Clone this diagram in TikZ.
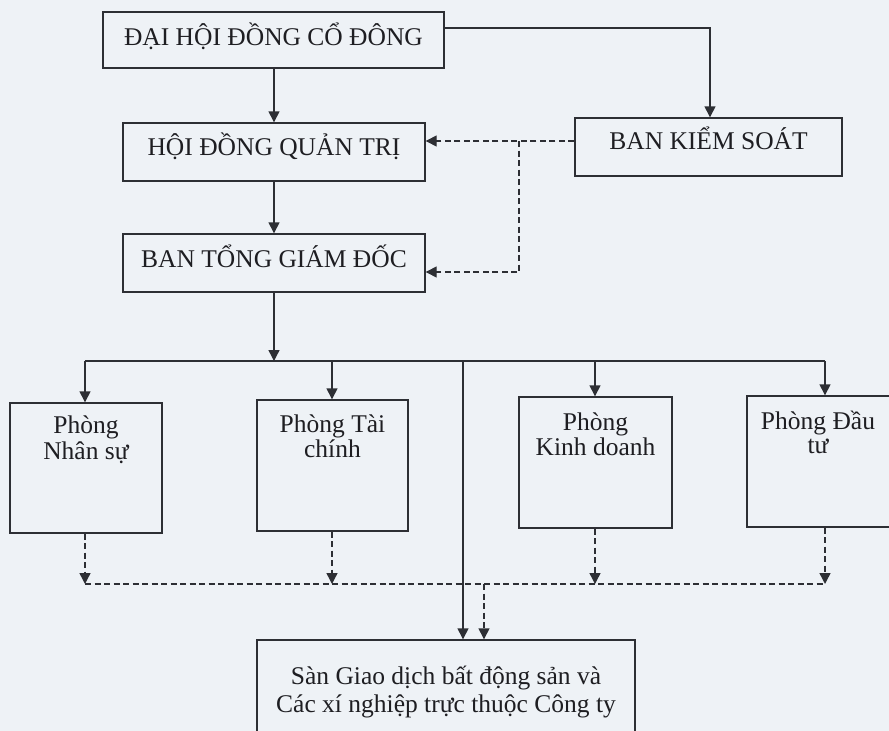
\documentclass[tikz,border=0pt]{standalone}
\usepackage{fontspec}
\setmainfont{Liberation Serif}
\usetikzlibrary{arrows.meta}
\definecolor{bgc}{RGB}{238,242,246}
\definecolor{ink}{RGB}{45,47,52}
\definecolor{txt}{RGB}{30,30,34}
\tikzset{
  box/.style={draw=ink, line width=1.4pt, rectangle, inner sep=0pt},
  lbl/.style={text=txt, font=\fontsize{25.5}{27}\selectfont, inner sep=0pt, anchor=base},
  arr/.style={draw=ink, line width=1.4pt, -{Triangle[width=11pt,length=11pt]}},
  ln/.style={draw=ink, line width=1.4pt},
  darr/.style={draw=ink, line width=1.4pt, dash pattern=on 6pt off 3.5pt, -{Triangle[width=11pt,length=11pt]}},
  dln/.style={draw=ink, line width=1.4pt, dash pattern=on 6pt off 3.5pt}
}
\begin{document}
\begin{tikzpicture}[x=1pt,y=-1pt]
\fill[bgc] (0,0) rectangle (889,731);
\useasboundingbox (0,0) rectangle (889,731);
\begin{scope}
\clip (0,0) rectangle (889,731);
% boxes
\node[box, minimum width=341pt, minimum height=56pt] (dhdcd) at (273.5,40) {};
\node[lbl] (dhdcdT) at (273.5,45) {ĐẠI HỘI ĐỒNG CỔ ĐÔNG};
\node[box, minimum width=302pt, minimum height=58pt] (hdqt) at (274,152) {};
\node[lbl] (hdqtT) at (274,155) {HỘI ĐỒNG QUẢN TRỊ};
\node[box, minimum width=302pt, minimum height=58pt] (btgd) at (274,263) {};
\node[lbl] (btgdT) at (274,267) {BAN TỔNG GIÁM ĐỐC};
\node[box, minimum width=267pt, minimum height=58pt] (bks) at (708.5,147) {};
\node[lbl] (bksT) at (708.5,149) {BAN KIỂM SOÁT};

\node[box, minimum width=152pt, minimum height=130pt] (ns) at (86,468) {};
\node[lbl] (ns1) at (86,433) {Phòng};
\node[lbl] (ns2) at (86,459) {Nhân sự};
\node[box, minimum width=151pt, minimum height=131pt] (tc) at (332.5,465.5) {};
\node[lbl] (tc1) at (332.5,432) {Phòng Tài};
\node[lbl] (tc2) at (332.5,457) {chính};
\node[box, minimum width=153pt, minimum height=131pt] (kd) at (595.5,462.5) {};
\node[lbl] (kd1) at (595.5,430) {Phòng};
\node[lbl] (kd2) at (595.5,455) {Kinh doanh};
\node[box, minimum width=143pt, minimum height=131pt] (dt) at (818.5,461.5) {};
\node[lbl] (dt1) at (818,429) {Phòng Đầu};
\node[lbl] (dt2) at (818,453) {tư};

\node[box, minimum width=378pt, minimum height=130pt] (san) at (446,705) {};
\node[lbl] (san1) at (446,684) {Sàn Giao dịch bất động sản và};
\node[lbl] (san2) at (446,712) {Các xí nghiệp trực thuộc Công ty};

% coordinates
\coordinate (busL) at (85,361);
\coordinate (busR) at (825,361);
\coordinate (busB) at (274,361);
\coordinate (busS) at (463,361);
\coordinate (busT) at (332,361);
\coordinate (busK) at (595,361);
\coordinate (dL) at (85,584);
\coordinate (dR) at (825,584);
\coordinate (dT) at (332,584);
\coordinate (dK) at (595,584);
\coordinate (dS) at (484,584);
\coordinate (kj1) at (519,141);
\coordinate (kj2) at (519,272);
\coordinate (top) at (710,28);

% solid connectors
\draw[arr] (dhdcd.south -| hdqt.north) -- (hdqt.north);
\draw[arr] (dhdcd.east |- top) -- (top) -- (top |- bks.north);
\draw[arr] (hdqt.south) -- (btgd.north);
\draw[arr] (btgd.south) -- (busB);
\draw[ln] (busL) -- (busR);
\draw[arr] (busL) -- (busL |- ns.north);
\draw[arr] (busT) -- (busT |- tc.north);
\draw[arr] (busK) -- (busK |- kd.north);
\draw[arr] (busR) -- (busR |- dt.north);
\draw[arr] (busS) -- (busS |- san.north);

% dashed connectors
\draw[darr] (bks.west |- kj1) -- (hdqt.east |- kj1);
\draw[darr] (kj1) -- (kj2) -- (btgd.east |- kj2);
\draw[darr] (ns.south -| dL) -- (dL);
\draw[darr] (tc.south -| dT) -- (dT);
\draw[darr] (kd.south -| dK) -- (dK);
\draw[darr] (dt.south -| dR) -- (dR);
\draw[dln] (dL) -- (dR);
\draw[darr] (dS) -- (dS |- san.north);
\end{scope}
\end{tikzpicture}
\end{document}
